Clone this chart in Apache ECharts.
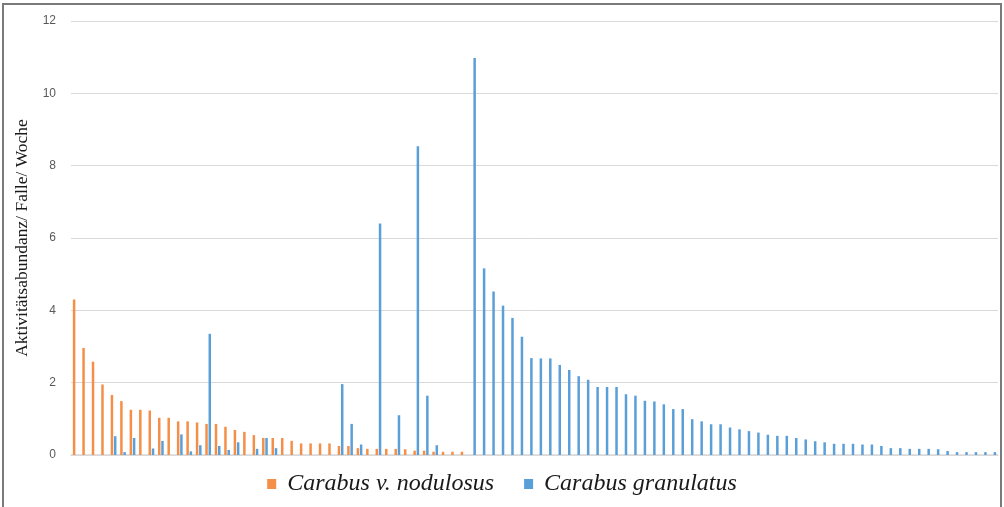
<!DOCTYPE html>
<html>
<head>
<meta charset="utf-8">
<script src="https://cdn.jsdelivr.net/npm/echarts@6/dist/echarts.min.js"></script>
<style>
	html, body { margin: 0; padding: 0; background: #fff; }
	#chart { width: 1004px; height: 507px; }
</style>
</head>
<body>
<div id="chart"></div>
<script>
	// values, one per trap (98 categories)
	var nodulosus = [
		4.30, 2.96, 2.58, 1.95, 1.66, 1.49, 1.25, 1.25, 1.23, 1.03,
		1.03, 0.93, 0.93, 0.90, 0.86, 0.86, 0.78, 0.69, 0.64, 0.55,
		0.47, 0.47, 0.47, 0.39, 0.32, 0.32, 0.32, 0.32, 0.25, 0.25,
		0.19, 0.17, 0.17, 0.17, 0.17, 0.16, 0.12, 0.12, 0.09, 0.09,
		0.09, 0.09, 0, 0, 0, 0, 0, 0, 0, 0,
		0, 0, 0, 0, 0, 0, 0, 0, 0, 0,
		0, 0, 0, 0, 0, 0, 0, 0, 0, 0,
		0, 0, 0, 0, 0, 0, 0, 0, 0, 0,
		0, 0, 0, 0, 0, 0, 0, 0, 0, 0,
		0, 0, 0, 0, 0, 0, 0, 0
	];
	var granulatus = [
		0, 0, 0, 0, 0.52, 0.08, 0.47, 0, 0.18, 0.39,
		0, 0.57, 0.10, 0.27, 3.35, 0.25, 0.14, 0.35, 0, 0.17,
		0.47, 0.19, 0, 0, 0, 0, 0, 0, 1.96, 0.86,
		0.29, 0, 6.40, 0, 1.10, 0, 8.54, 1.64, 0.27, 0,
		0, 0, 10.98, 5.16, 4.52, 4.13, 3.79, 3.27, 2.68, 2.67,
		2.67, 2.49, 2.35, 2.18, 2.08, 1.88, 1.88, 1.88, 1.68, 1.64,
		1.50, 1.48, 1.40, 1.27, 1.27, 0.99, 0.93, 0.85, 0.85, 0.76,
		0.71, 0.66, 0.62, 0.56, 0.53, 0.53, 0.47, 0.43, 0.38, 0.35,
		0.31, 0.31, 0.31, 0.29, 0.29, 0.25, 0.19, 0.19, 0.17, 0.17,
		0.17, 0.16, 0.11, 0.08, 0.08, 0.08, 0.08, 0.08
	];
	var categories = [];
	for (var i = 1; i <= nodulosus.length; i++) {
		categories.push(String(i));
	}
	var seriesNames = ['Carabus v. nodulosus', 'Carabus granulatus'];

	let chart = echarts.init(document.getElementById('chart'));
	let option = {
		animation: false,
		color: ['#F58F48', '#5B9FD8'],
		graphic: [{
			type: 'rect',
			shape: { x: 3, y: 4, width: 998, height: 520 },
			style: { fill: 'none', stroke: '#7a7a7a', lineWidth: 2 },
			silent: true
		}],
		legend: {
			data: seriesNames,
			left: 'center',
			top: 467,
			itemWidth: 9,
			itemHeight: 10,
			itemGap: 30,
			icon: 'rect',
			textStyle: {
				fontFamily: 'Liberation Serif',
				fontStyle: 'italic',
				fontSize: 24,
				color: '#1a1a1a',
				padding: [0, 0, 0, 6]
			}
		},
		grid: {
			left: 71,
			right: 6,
			top: 21,
			bottom: 52,
			containLabel: false
		},
		xAxis: {
			type: 'category',
			data: categories,
			axisLine: { lineStyle: { color: '#d9d9d9', width: 1.5 } },
			axisTick: { show: false },
			axisLabel: { show: false },
			splitLine: { show: false }
		},
		yAxis: {
			type: 'value',
			min: 0,
			max: 12,
			interval: 2,
			name: 'Aktivitätsabundanz/ Falle/ Woche',
			nameLocation: 'middle',
			nameGap: 38,
			nameTextStyle: {
				fontFamily: 'Liberation Serif',
				fontSize: 17.5,
				color: '#1a1a1a'
			},
			axisLine: { show: false },
			axisTick: { show: false },
			axisLabel: {
				margin: 15,
				fontFamily: 'Liberation Sans',
				fontSize: 12,
				color: '#595959'
			},
			splitLine: { lineStyle: { color: '#d9d9d9', width: 1 } }
		},
		series: [{
			name: seriesNames[0],
			type: 'bar',
			barWidth: 2.5,
			barGap: '30%',
			data: nodulosus
		}, {
			name: seriesNames[1],
			type: 'bar',
			barWidth: 2.5,
			barGap: '30%',
			data: granulatus
		}]
	};
	chart.setOption(option);
</script>
</body>
</html>
